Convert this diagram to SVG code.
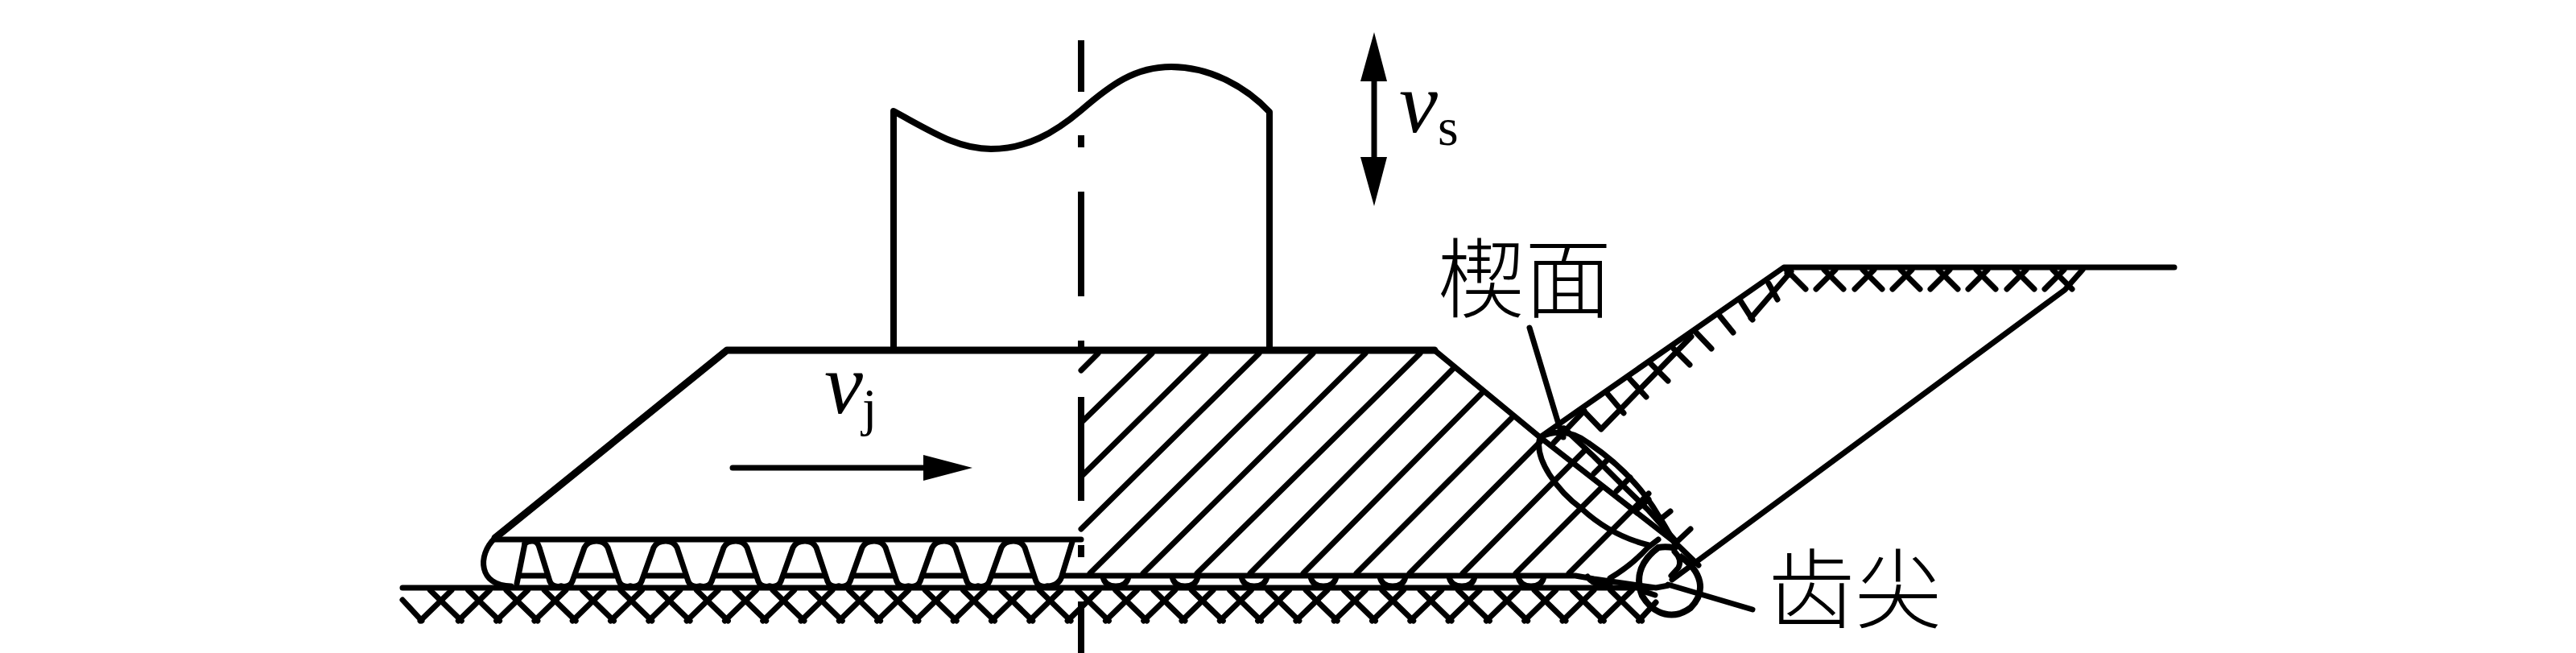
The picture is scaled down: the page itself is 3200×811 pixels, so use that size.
<svg xmlns="http://www.w3.org/2000/svg" width="3200" height="811" viewBox="0 0 3200 811">
<style>
.l{fill:none;stroke:#000;stroke-width:7;stroke-linecap:round;stroke-linejoin:round}
.t{stroke-width:9}
.c{fill:none;stroke:#000;stroke-width:8}
.f{fill:#000;stroke:none}
.mi{font-family:"Liberation Serif",serif;font-style:italic;fill:#000}
.mr{font-family:"Liberation Serif",serif;fill:#000}
.cn{font-family:"Noto Sans CJK SC",sans-serif;font-size:108px;font-weight:300;fill:#000}
</style>
<defs>
<path id="tooth" class="l" d="M0,728Q11,730 14,722L29,680Q33,672 44,672Q54,672 58,680L72,722Q75,730 86,728"/>
<path id="v" class="l" d="M-37,733L2,771M37,733L-2,771"/>
<path id="x" class="l" d="M17,359L-7,335M-17,359L7,335"/>
<path id="u" class="l" d="M-16,716Q-14,728 0,728Q14,728 16,716"/>
</defs>
<rect width="3200" height="811" fill="#fff"/>
<g id="centerline">
<path class="c" d="M1343,50V114M1343,168V183M1343,238V368M1343,423V439M1343,493V622M1343,677V692M1343,747V811"/>
</g>
<g id="shaft">
<path class="l" style="stroke-width:8" d="M1110,435V138C1160,165 1190,185 1231,185C1275,185 1310,165 1343,137C1380,105 1410,83 1455,83C1500,83 1545,105 1577,139V435"/>
</g>
<g id="tool">
<path class="l t" d="M1782,435H903L615,668"/>
<path class="l" d="M1782,435L1913,543L2080,673L2110,702"/>
<path class="l" d="M615,670H1343"/>
<path class="l" d="M615,668C592,690 595,728 635,728"/>
<path class="l" d="M652,675L642,725"/>
<path class="l" d="M652,675Q656,672 661,672Q668,672 670,680L683,722Q686,730 697,728"/>
<path class="l" d="M1332,673L1320,712Q1317,728 1301,728"/>
<use href="#tooth" x="697"/><use href="#tooth" x="783"/><use href="#tooth" x="870"/><use href="#tooth" x="956"/><use href="#tooth" x="1042"/><use href="#tooth" x="1129"/><use href="#tooth" x="1215"/>
<path class="l" style="stroke-linecap:butt" d="M644,715H682M714,715H768M800,715H854M886,715H940M972,715H1026M1058,715H1112M1144,715H1198M1231,715H1285M1318,715H1957L1980,719L2057,730L2073,727"/>
<use href="#u" x="1386"/><use href="#u" x="1472"/><use href="#u" x="1558"/><use href="#u" x="1644"/><use href="#u" x="1730"/><use href="#u" x="1816"/><use href="#u" x="1902"/>
<path class="l" d="M1972,716Q1978,727 2000,727"/>
</g>
<g id="tool-hatch">
<path class="l" d="M1364,439L1343,460M1431,439L1343,525M1498,439L1343,592M1564,439L1343,657M1631,439L1354,712M1696,439L1420,712M1764,439L1487,712M1805,458L1553,712M1842,487L1619,712M1880,517L1685,712M1914,548L1751,712M1970,558L1817,712M1990,605L1883,712M2048,613L1949,712"/>
<path class="l" d="M2000,718Q2027,702 2047,680L2060,670"/>
</g>
<g id="ground">
<path class="l" d="M500,730H2052"/>
<path class="l" d="M500,745L524,771M561,733L522,771"/>
<use href="#v" x="571.3"/><use href="#v" x="618.6"/><use href="#v" x="665.9"/><use href="#v" x="713.2"/><use href="#v" x="760.5"/><use href="#v" x="807.8"/><use href="#v" x="855.1"/><use href="#v" x="902.4"/><use href="#v" x="949.7"/><use href="#v" x="997"/><use href="#v" x="1044.3"/><use href="#v" x="1091.6"/><use href="#v" x="1138.9"/><use href="#v" x="1186.2"/><use href="#v" x="1233.5"/><use href="#v" x="1280.8"/><use href="#v" x="1328.1"/><use href="#v" x="1375.4"/><use href="#v" x="1422.7"/><use href="#v" x="1470"/><use href="#v" x="1517.3"/><use href="#v" x="1564.6"/><use href="#v" x="1611.9"/><use href="#v" x="1659.2"/><use href="#v" x="1706.5"/><use href="#v" x="1753.8"/><use href="#v" x="1801.1"/><use href="#v" x="1848.4"/><use href="#v" x="1895.7"/><use href="#v" x="1943"/><use href="#v" x="1990.3"/>
<path class="l" d="M2000.6,733L2039.6,771M2035.6,771L2057,748M2040,734L2056,739"/>
</g>
<g id="workpiece">
<path class="l" d="M2701,332H2216L1913,543"/>
<path class="l" d="M2587,335L2565,360L2077,720"/>
<path class="l" d="M2225,337L2175,395M2101,418L1989,533L1967,510M1968,510L1930,550"/>
<path class="l" d="M2197,352L2208,372M2161,372L2177,397M2136,392L2153,413M2107,413L2126,433M2079,433L2099,453M2051,452L2072,473M2024,470L2045,493M1996,488L2017,513"/>
<use href="#x" x="2273"/><use href="#x" x="2321"/><use href="#x" x="2368"/><use href="#x" x="2415"/><use href="#x" x="2462"/><use href="#x" x="2510"/><use href="#x" x="2557"/>
<path class="l" d="M2243,359L2219,335M2220,339L2226,342"/>
</g>
<g id="wedge-zone">
<path class="l" d="M1913,543C1930,535 1950,533 1973,550C2010,575 2040,606 2060,640C2076,665 2082,680 2082,675"/>
<path class="l" d="M1913,543C1905,570 1935,610 1965,632C1990,655 2020,670 2048,677"/>
<path class="l" d="M1943,532L1980,567L2013,600L2047,633L2080,670"/>
<path class="l" d="M1980,588L1998,570M2008,610L2025,593M2034,632L2048,620M2060,647L2075,635M2083,673L2100,657M1942,543L1941,532"/>
</g>
<g id="tip">
<path class="c" d="M2086,690C2115,710 2120,735 2100,755C2080,770 2055,765 2040,740C2030,715 2040,695 2060,680C2070,678 2080,680 2084,682"/>
<path class="l" d="M2080,685Q2090,695 2085,705L2076,715"/>
</g>
<g id="leaders">
<path class="l" d="M1900,407L1938,533"/>
<path class="l" d="M2072,726L2177,757"/>
</g>
<g id="arrows">
<path class="l" d="M1707,95V200"/>
<path class="f" d="M1707,40L1723,101H1690ZM1707,256L1690,195H1723Z"/>
<path class="l" d="M910,581H1150"/>
<path class="f" d="M1208,581L1147,565V597Z"/>
</g>
<g id="labels">
<text class="mi" x="1738" y="164" font-size="108">v</text>
<text class="mr" x="1786" y="180" font-size="66">s</text>
<text class="mi" x="1024" y="513" font-size="108">v</text>
<text class="mr" x="1071" y="528" font-size="66">j</text>
<text class="cn" x="1786" y="386">楔面</text>
<text class="cn" x="2196" y="772">齿尖</text>
</g>
</svg>
